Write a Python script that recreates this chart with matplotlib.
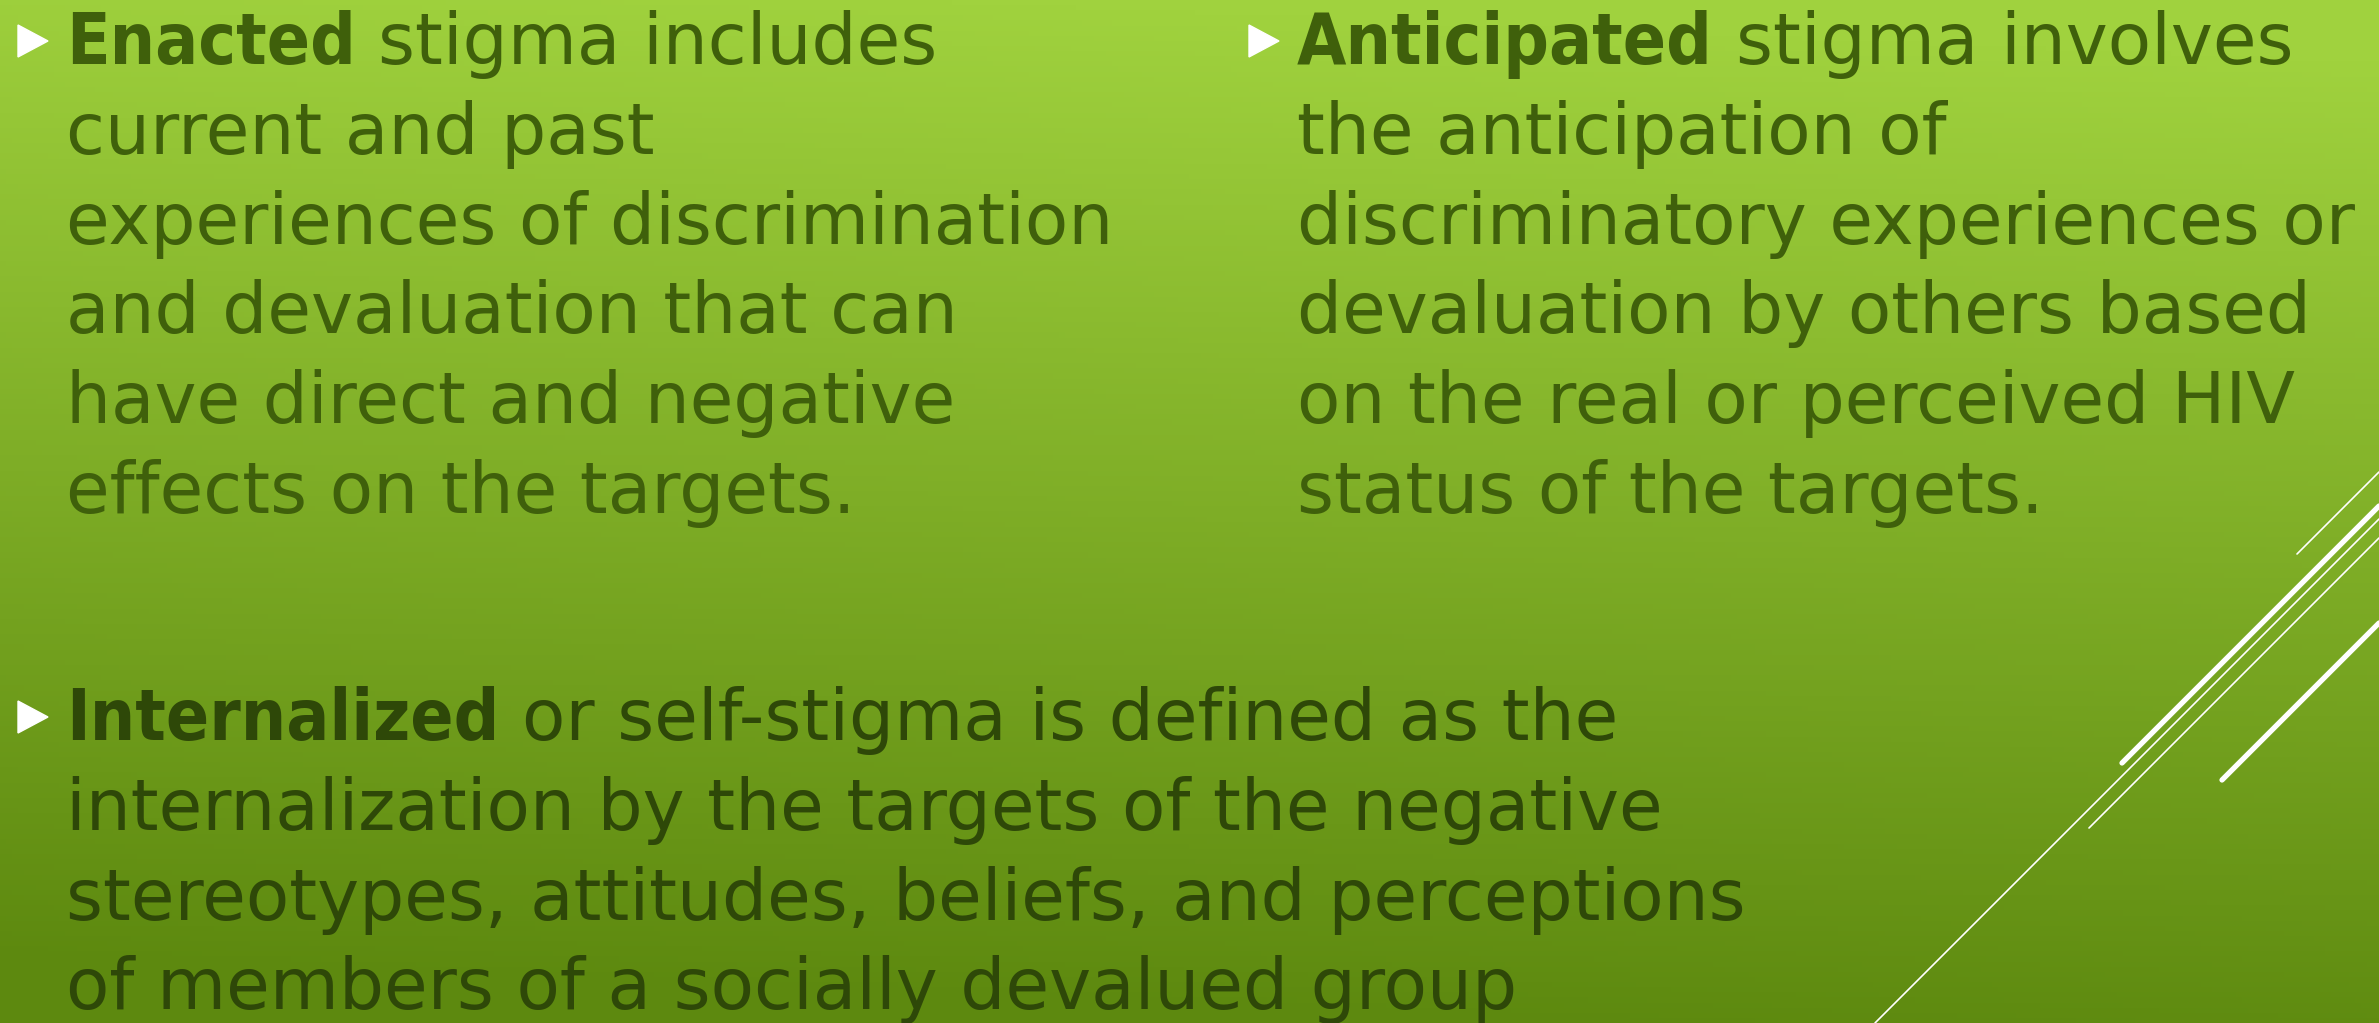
import numpy as np
import matplotlib
matplotlib.use("Agg")
import matplotlib.pyplot as plt
from matplotlib.colors import to_rgb
from matplotlib.patches import Polygon

W, H = 2379, 1023

# slide content
left_bold = "Enacted"
left_lines = ["stigma includes", "current and past", "experiences of discrimination",
              "and devaluation that can", "have direct and negative",
              "effects on the targets."]
right_bold = "Anticipated"
right_lines = ["stigma involves", "the anticipation of", "discriminatory experiences or",
               "devaluation by others based", "on the real or perceived HIV",
               "status of the targets."]
bottom_bold = "Internalized"
bottom_lines = ["or self-stigma is defined as the",
                "internalization by the targets of the negative",
                "stereotypes, attitudes, beliefs, and perceptions",
                "of members of a socially devalued group"]

# decorative white strokes (x0, y0, x1, y1, width)
deco_lines = [
    (2122, 763, 2379, 506, 3.8),
    (1875, 1023, 2379, 519, 1.2),
    (2089, 828, 2379, 538, 1.2),
    (2297, 554, 2379, 472, 1.2),
    (2222, 780, 2379, 623, 3.8),
]

bg_top = "#a0d23e"
bg_bottom = "#5d890f"
txt_col = "#3f600b"
txt_col_dark = "#2e4808"
font = "DejaVu Sans"

fig = plt.figure(figsize=(W / 100, H / 100), dpi=100)
ax = fig.add_axes([0, 0, 1, 1])
ax.set_xlim(0, W)
ax.set_ylim(H, 0)
ax.axis("off")

# background gradient, mostly vertical, a bit lighter to the right
yy, xx = np.mgrid[0:1:200j, 0:1:400j]
t = np.clip(yy * 1.02 - 0.1 * xx + 0.04, 0, 1)[..., None]
img = np.array(to_rgb(bg_top)) * (1 - t) + np.array(to_rgb(bg_bottom)) * t
ax.imshow(img, extent=[0, W, H, 0], aspect="auto", zorder=0)

for x0, y0, x1, y1, lw in deco_lines:
    ax.plot([x0, x1], [y0, y1], color="white", lw=lw, solid_capstyle="round", zorder=1)

renderer = fig.canvas.get_renderer()

# fit the font size to the width of one reference line
probe = ax.text(0, 0, "experiences of discrimination", fontsize=40, family=font)
pw = probe.get_window_extent(renderer).width
probe.remove()
fs = 40 * 1047 / pw

space = ax.text(0, 0, "a a", fontsize=fs, family=font)
sw = space.get_window_extent(renderer).width
space.remove()
aa = ax.text(0, 0, "aa", fontsize=fs, family=font)
sw -= aa.get_window_extent(renderer).width
aa.remove()


def block(x_bul, x_txt, y0, bold, lines, color):
    step = 89.8
    # triangle bullet
    yc = y0 - 23
    tri = Polygon([[x_bul, yc - 16], [x_bul, yc + 16], [x_bul + 30, yc]],
                  closed=True, color="white", zorder=3)
    ax.add_patch(tri)
    b = ax.text(x_txt, y0, bold, fontsize=fs, family=font, fontweight="bold",
                fontstretch="condensed", color=color, va="baseline", zorder=3)
    bb = b.get_window_extent(renderer)
    x_end = ax.transData.inverted().transform((bb.x1 + sw, 0))[0]
    ax.text(x_end, y0, lines[0], fontsize=fs, family=font, color=color,
            va="baseline", zorder=3)
    for i, ln in enumerate(lines[1:], start=1):
        ax.text(x_txt, y0 + i * step, ln, fontsize=fs, family=font, color=color,
                va="baseline", zorder=3)


block(18, 66, 64, left_bold, left_lines, txt_col)
block(1249, 1297, 64, right_bold, right_lines, txt_col)
block(18, 66, 740, bottom_bold, bottom_lines, txt_col_dark)

fig.savefig("out.png", dpi=100)
